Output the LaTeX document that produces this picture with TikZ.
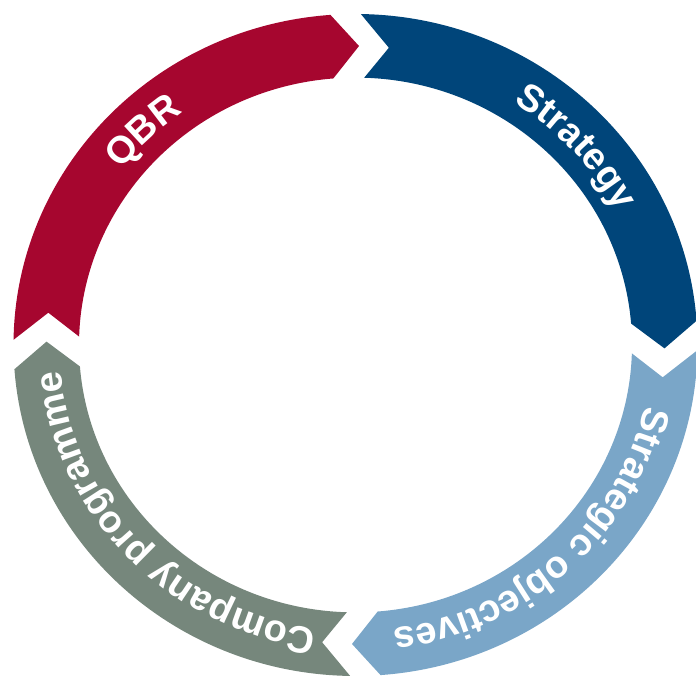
\documentclass[tikz,border=0pt]{standalone}
\usepackage{fontspec}
\setmainfont{Liberation Sans}
\usetikzlibrary{decorations.text}
\definecolor{qbrred}{HTML}{A6062F}
\definecolor{stratblue}{HTML}{00457A}
\definecolor{objblue}{HTML}{7AA6C8}
\definecolor{proggrey}{HTML}{76877C}
\newcommand\ringseg[3]{%
  \pgfmathsetmacro\tailO{#2-0.9}%
  \pgfmathsetmacro\tailI{#2-1.8}%
  \pgfmathsetmacro\notch{#2-6.2}%
  \pgfmathsetmacro\headO{#3+4.2}%
  \pgfmathsetmacro\headI{#3+4.6}%
  \pgfmathsetmacro\tip{#3-0.65}%
  \fill[#1] (\tailO:342 and 331)
    arc[start angle=\tailO, end angle=\headO, x radius=342, y radius=331]
    -- (\tip:309 and 299)
    -- (\headI:276.5 and 267.4)
    arc[start angle=\headI, end angle=\tailI, x radius=276.5, y radius=267.4]
    -- (\notch:309 and 299) -- cycle;}
\newcommand\ringtext[2]{%
  \pgfmathsetmacro\ta{#1+50}%
  \pgfmathsetmacro\tb{#1-50}%
  \path[decorate, decoration={text along path, text align=center,
      text={|\color{white}\bfseries\fontsize{38}{42}\selectfont|#2}}]
    (\ta:296 and 286.2)
    arc[start angle=\ta, end angle=\tb, x radius=296, y radius=286.2];}
\begin{document}
\begin{tikzpicture}[x=1pt,y=1pt]
\useasboundingbox (0,0) rectangle (696,677);
\begin{scope}[shift={(355.5,332)}]
  \ringseg{qbrred}{180}{90}
  \ringseg{stratblue}{90}{0}
  \ringseg{objblue}{0}{-90}
  \ringseg{proggrey}{-90}{-180}
  \ringtext{134.5}{QBR}
  \ringtext{42.3}{Strategy}
  \ringtext{-47.2}{Strategic objectives}
  \ringtext{-136.4}{Company programme}
\end{scope}
\end{tikzpicture}
\end{document}
